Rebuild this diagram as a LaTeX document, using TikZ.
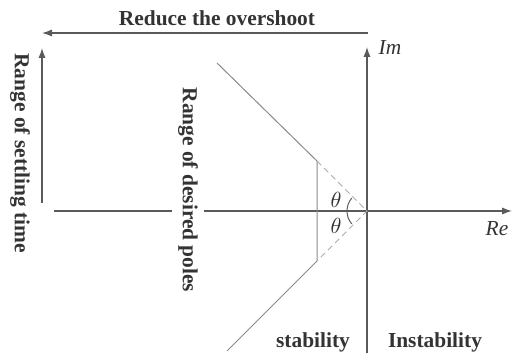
\documentclass[tikz,border=0pt]{standalone}
\usepackage{fontspec}
\setmainfont{Liberation Serif}
\usepackage{tikz}
\usetikzlibrary{arrows.meta, positioning}
\definecolor{linea}{HTML}{5A5A5A}
\definecolor{diag}{HTML}{8A8A8A}
\definecolor{texto}{HTML}{333333}
\tikzset{
  every picture/.style={x=0.5pt, y=-0.5pt, >={Latex[length=5pt,width=3.6pt]}},
  etiq/.style={text=texto, font=\fontsize{10.7}{12}\selectfont\bfseries, inner sep=1pt},
  eje/.style={font=\fontsize{10.7}{12}\selectfont\itshape, text=texto, inner sep=1pt},
  flecha/.style={->, linea, line width=0.6pt},
  recta/.style={diag, line width=0.5pt},
  rayad/.style={diag!70, line width=0.5pt, dash pattern=on 3pt off 2pt},
}
\begin{document}
\begin{tikzpicture}
  \useasboundingbox (0,0) rectangle (515,353);
  % puntos del plano
  \coordinate (O) at (367,211);
  \coordinate (P1) at (317,161);
  \coordinate (P2) at (317,261);
  \coordinate (A1) at (217,63);
  \coordinate (A2) at (227,351);
  \coordinate (ReS) at (54,211);
  \coordinate (ReE) at (512,211);
  \coordinate (ImS) at (367,353);
  \coordinate (ImE) at (367,47);
  \coordinate (SobS) at (368,33);
  \coordinate (SobE) at (42,33);
  \coordinate (TsS) at (42,203);
  \coordinate (TsE) at (42,48);
  % ejes
  \draw[flecha] (ReS) -- (ReE);
  \draw[flecha] (ImS) -- (ImE);
  \node[eje] (Re) at (497,229) {Re};
  \node[eje] (Im) at (390,47) {Im};
  % region deseada
  \draw[recta] (A1) -- (P1) -- (P2) -- (A2);
  \draw[rayad] (P1) -- (O) -- (P2);
  \draw[linea, line width=0.5pt] (O) ++(140:10pt) arc[start angle=140, end angle=220, radius=10pt];
  \node[eje, font=\fontsize{11}{12}\selectfont\itshape] (T1) at (336,200) {$\theta$};
  \node[eje, font=\fontsize{11}{12}\selectfont\itshape] (T2) at (336,226) {$\theta$};
  % flechas de tendencia
  \draw[flecha] (SobS) -- (SobE);
  \draw[flecha] (TsS) -- (TsE);
  \node[etiq] (Sob) at (217,18) {Reduce the overshoot};
  \node[etiq, rotate=-90] (Ts) at (20,153) {Range of settling time};
  \node[etiq, rotate=-90, fill=white, inner sep=3pt] (Dp) at (188,190) {Range of desired poles};
  \node[etiq] (Est) at (313,342) {stability};
  \node[etiq] (Ins) at (435,342) {Instability};
\end{tikzpicture}
\end{document}
